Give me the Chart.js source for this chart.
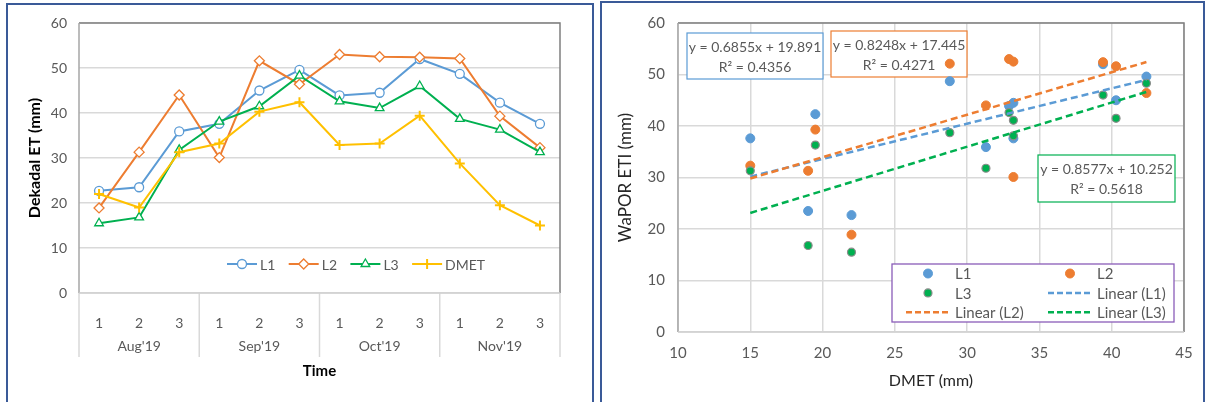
<!DOCTYPE html>
<html>
<head>
<meta charset="utf-8">
<script src="https://cdn.jsdelivr.net/npm/chart.js@4.4.0/dist/chart.umd.min.js"></script>
<style>
  body { margin: 0; background: #fff; width: 1205px; height: 402px; overflow: hidden; position: relative; }
  .panel { position: absolute; height: 430px; border: 2px solid #3A5A98; box-sizing: border-box; }
  #p1 { left: 6px; top: 3px; width: 588px; }
  #p2 { left: 600px; top: 1px; width: 605px; }
  canvas { position: absolute; top: 0; }
</style>
</head>
<body>
<div class="panel" id="p1"></div>
<div class="panel" id="p2"></div>
<canvas id="timeChart" width="597" height="402" style="left:0"></canvas>
<canvas id="scatterChart" width="608" height="402" style="left:597px"></canvas>
<script>
// dekads and months on the time axis
const dekadLabels = ['1', '2', '3', '1', '2', '3', '1', '2', '3', '1', '2', '3'];
const monthLabels = ["Aug'19", "Sep'19", "Oct'19", "Nov'19"];

// dekadal ET (mm)
const l1 = [22.7, 23.5, 35.9, 37.6, 45.0, 49.6, 43.9, 44.5, 52.0, 48.7, 42.3, 37.6];
const l2 = [18.9, 31.3, 44.0, 30.1, 51.6, 46.4, 53.0, 52.5, 52.4, 52.1, 39.3, 32.3];
const l3 = [15.5, 16.8, 31.8, 38.1, 41.5, 48.3, 42.6, 41.1, 46.0, 38.7, 36.3, 31.3];
const dmet = [22.0, 19.0, 31.3, 33.2, 40.3, 42.4, 32.9, 33.2, 39.4, 28.8, 19.5, 15.0];

// linear trendlines shown on the scatter
const fitSlope = [0.6855, 0.8248, 0.8577];
const fitIntercept = [19.891, 17.445, 10.252];
const fitR2 = ['0.4356', '0.4271', '0.5618'];

const FONT = "Lato, 'Open Sans', sans-serif";
const GREY = '#595959';
const colors = ['#5B9BD5', '#ED7D31', '#00B050', '#FFC000'];

Chart.defaults.font.family = FONT;
Chart.defaults.color = GREY;

function plotFrame(ctx, area) {
  ctx.save();
  ctx.lineWidth = 1.5;
  ctx.strokeStyle = '#7F7F7F';
  ctx.beginPath();
  ctx.moveTo(area.left, area.top);
  ctx.lineTo(area.right, area.top);
  ctx.lineTo(area.right, area.bottom);
  ctx.stroke();
  ctx.strokeStyle = '#A6A6A6';
  ctx.beginPath();
  ctx.moveTo(area.left, area.top);
  ctx.lineTo(area.left, area.bottom);
  ctx.stroke();
  ctx.strokeStyle = '#D0D0D0';
  ctx.beginPath();
  ctx.moveTo(area.left, area.bottom);
  ctx.lineTo(area.right, area.bottom);
  ctx.stroke();
  ctx.restore();
}

function marker(ctx, ds, x, y) {
  const opts = {
    pointStyle: ds.pointStyle, radius: ds.pointRadius, rotation: 0,
    borderWidth: ds.pointBorderWidth || 1
  };
  ctx.fillStyle = ds.pointBackgroundColor;
  ctx.strokeStyle = ds.pointBorderColor;
  ctx.lineWidth = opts.borderWidth;
  Chart.helpers.drawPoint(ctx, opts, x, y);
}

// ---------- left: time series ----------
const monthAxis = {
  id: 'monthAxis',
  afterDraw(chart) {
    const {ctx, chartArea: a, scales: {x}} = chart;
    const w = (x.right - x.left) / dekadLabels.length;
    ctx.save();
    ctx.strokeStyle = '#D9D9D9';
    ctx.lineWidth = 1.5;
    for (let i = 0; i <= monthLabels.length; i++) {
      const px = x.left + i * 3 * w;
      ctx.beginPath();
      ctx.moveTo(px, a.bottom);
      ctx.lineTo(px, a.bottom + 64);
      ctx.stroke();
    }
    ctx.fillStyle = GREY;
    ctx.font = '14px ' + FONT;
    ctx.textAlign = 'center';
    ctx.textBaseline = 'middle';
    monthLabels.forEach(function(m, i) {
      ctx.fillText(m, x.left + (i * 3 + 1.5) * w, a.bottom + 53);
    });
    plotFrame(ctx, a);

    // legend: line + marker + label
    ctx.font = '14px ' + FONT;
    ctx.textAlign = 'left';
    chart.data.datasets.forEach(function(ds, i) {
      const lx = a.left + 148 + i * 61.7;
      const ly = a.top + 241;
      ctx.strokeStyle = ds.borderColor;
      ctx.lineWidth = 2;
      ctx.beginPath();
      ctx.moveTo(lx, ly);
      ctx.lineTo(lx + 30, ly);
      ctx.stroke();
      marker(ctx, ds, lx + 15, ly);
      ctx.fillStyle = GREY;
      ctx.fillText(ds.label, lx + 33, ly + 1);
    });
    ctx.restore();
  }
};

function lineSet(label, data, color, style, order) {
  return {
    label: label, data: data, borderColor: color, backgroundColor: color,
    borderWidth: 2, tension: 0, order: order,
    pointStyle: style, pointRadius: style === 'circle' ? 4.5 : 5,
    pointBackgroundColor: style === 'cross' ? color : '#fff',
    pointBorderColor: color, pointBorderWidth: style === 'cross' ? 2 : 1.3
  };
}

new Chart(document.getElementById('timeChart'), {
  type: 'line',
  data: {
    labels: dekadLabels,
    datasets: [
      lineSet('L1', l1, colors[0], 'circle', 4),
      lineSet('L2', l2, colors[1], 'rectRot', 3),
      lineSet('L3', l3, colors[2], 'triangle', 2),
      lineSet('DMET', dmet, colors[3], 'cross', 1)
    ]
  },
  options: {
    responsive: false,
    animation: false,
    layout: {padding: {left: 25, top: 23, right: 37, bottom: 22}},
    plugins: {legend: {display: false}, tooltip: {enabled: false}},
    scales: {
      x: {
        offset: true,
        grid: {display: false},
        border: {display: false},
        ticks: {padding: 14, font: {size: 14}, maxRotation: 0},
        title: {display: true, text: 'Time', color: '#000', padding: 0,
                font: {size: 15, weight: 'bold'}},
        afterFit(s) { s.height = 87; }
      },
      y: {
        min: 0, max: 60,
        ticks: {stepSize: 10, padding: 12, font: {size: 14}},
        grid: {color: '#D9D9D9', lineWidth: 1.5, drawTicks: false},
        border: {display: false},
        title: {display: true, text: 'Dekadal ET (mm)', color: '#000', padding: 0,
                font: {size: 16, weight: 'bold'}},
        afterFit(s) { s.width = 54; }
      }
    }
  },
  plugins: [monthAxis]
});

// ---------- right: scatter with trendlines ----------
const xMin = Math.min.apply(null, dmet);
const xMax = Math.max.apply(null, dmet);
const seriesNames = ['L1', 'L2', 'L3'];
const seriesData = [l1, l2, l3];

const pointSets = seriesData.map(function(vals, i) {
  return {
    label: seriesNames[i],
    data: dmet.map(function(d, k) { return {x: d, y: vals[k]}; }),
    showLine: false,
    pointStyle: 'circle',
    pointRadius: i === 2 ? 4 : 4.5,
    pointBackgroundColor: colors[i],
    pointBorderColor: i === 2 ? '#8C8C8C' : colors[i],
    pointBorderWidth: i === 2 ? 1.2 : 1,
    order: 6 - i
  };
});
const trendSets = seriesNames.map(function(n, i) {
  return {
    type: 'line',
    label: 'Linear (' + n + ')',
    data: [xMin, xMax].map(function(x) { return {x: x, y: fitSlope[i] * x + fitIntercept[i]}; }),
    borderColor: colors[i],
    borderWidth: 2.5,
    borderDash: [7, 4],
    pointRadius: 0,
    order: 3 - i
  };
});

const eqBoxes = [
  {dx: 9, dy: 10, w: 136, h: 46},
  {dx: 153, dy: 8, w: 136, h: 46},
  {dx: 360, dy: 132, w: 137, h: 47}
];

const scatterExtras = {
  id: 'scatterExtras',
  beforeDatasetsDraw(chart) {
    const {ctx, chartArea: a} = chart;
    ctx.save();
    ctx.font = '14px ' + FONT;
    ctx.textAlign = 'center';
    ctx.textBaseline = 'middle';
    eqBoxes.forEach(function(b, i) {
      const bx = a.left + b.dx, by = a.top + b.dy;
      ctx.fillStyle = '#fff';
      ctx.fillRect(bx, by, b.w, b.h);
      ctx.strokeStyle = colors[i];
      ctx.lineWidth = 1.2;
      ctx.strokeRect(bx, by, b.w, b.h);
      ctx.fillStyle = GREY;
      ctx.fillText('y = ' + fitSlope[i] + 'x + ' + fitIntercept[i], bx + b.w / 2, by + 14);
      ctx.fillText('R\u00B2 = ' + fitR2[i], bx + b.w / 2, by + 34);
    });
    ctx.restore();
  },
  afterDraw(chart) {
    const {ctx, chartArea: a} = chart;
    plotFrame(ctx, a);
    ctx.save();
    const lx = a.left + 214, ly = a.top + 241;
    ctx.fillStyle = '#fff';
    ctx.fillRect(lx, ly, 282, 58);
    ctx.strokeStyle = '#8A5CB8';
    ctx.lineWidth = 1.3;
    ctx.strokeRect(lx, ly, 282, 58);
    ctx.font = '15px ' + FONT;
    ctx.textAlign = 'left';
    ctx.textBaseline = 'middle';
    // two columns, legend entries in dataset order
    const entries = pointSets.concat(trendSets);
    entries.forEach(function(ds, i) {
      const col = i % 2, row = Math.floor(i / 2);
      const cx = lx + col * 142;
      const cy = ly + 9.5 + row * 19.4;
      if (ds.showLine === false) {
        marker(ctx, ds, cx + 36, cy);
      } else {
        ctx.strokeStyle = ds.borderColor;
        ctx.lineWidth = 2.5;
        ctx.setLineDash([6, 3]);
        ctx.beginPath();
        ctx.moveTo(cx + 14, cy);
        ctx.lineTo(cx + 58, cy);
        ctx.stroke();
        ctx.setLineDash([]);
      }
      ctx.fillStyle = GREY;
      ctx.fillText(ds.label, cx + 63, cy + 1);
    });
    ctx.restore();
  }
};

new Chart(document.getElementById('scatterChart'), {
  type: 'scatter',
  data: {datasets: pointSets.concat(trendSets)},
  options: {
    responsive: false,
    animation: false,
    layout: {padding: {left: 18, top: 23, right: 21, bottom: 12}},
    plugins: {legend: {display: false}, tooltip: {enabled: false}},
    scales: {
      x: {
        min: 10, max: 45,
        ticks: {stepSize: 5, padding: 12, font: {size: 15}},
        grid: {color: '#D9D9D9', lineWidth: 1.5, drawTicks: false},
        border: {display: false},
        title: {display: true, text: 'DMET (mm)', color: '#262626', padding: 0, font: {size: 16}},
        afterFit(s) { s.height = 58; }
      },
      y: {
        min: 0, max: 60,
        ticks: {stepSize: 10, padding: 13, font: {size: 15}},
        grid: {color: '#D9D9D9', lineWidth: 1.5, drawTicks: false},
        border: {display: false},
        title: {display: true, text: 'WaPOR ETI (mm)', color: '#262626', padding: 0, font: {size: 17}},
        afterFit(s) { s.width = 63; }
      }
    }
  },
  plugins: [scatterExtras]
});
</script>
</body>
</html>
